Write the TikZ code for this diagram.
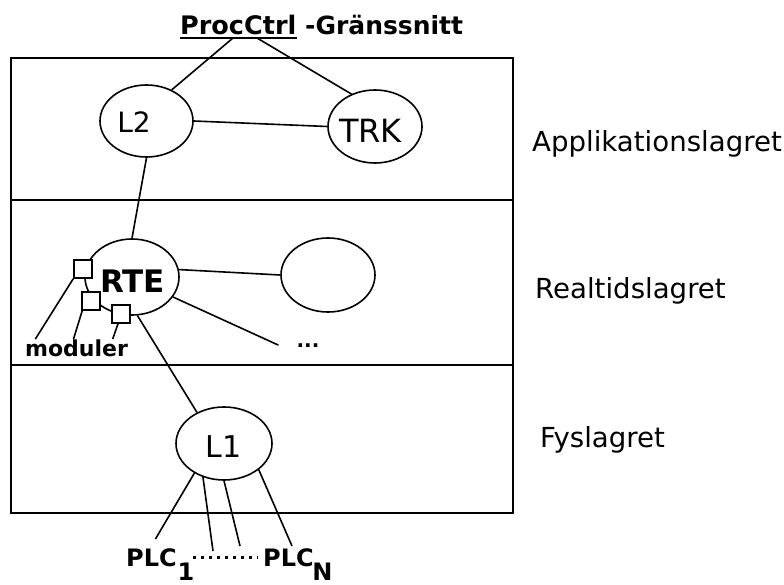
\documentclass[tikz,border=0pt]{standalone}
\usepackage{fontspec}
\setmainfont{DejaVu Sans}
\usetikzlibrary{shapes.geometric,calc}
\begin{document}
\begin{tikzpicture}[x=1pt,y=-1pt,
  ell/.style={draw,ellipse,line width=1.6pt,inner sep=0pt},
  con/.style={line width=1.6pt},
  sqbox/.style={draw,fill=white,line width=1.6pt,minimum size=18pt,inner sep=0pt},
  lbl/.style={inner sep=0pt},
  layer/.style={anchor=base west,inner sep=0pt,font=\fontsize{27.6}{30}\selectfont},
  plc/.style={inner sep=0pt,font=\bfseries\fontsize{24}{26}\selectfont},
  boxline/.style={line width=2.2pt}]
\useasboundingbox (0,0) rectangle (784,585);
\fill[white] (0,0) rectangle (784,585);
% layer box
\draw[boxline] (11,58) rectangle (513,513);
\draw[boxline] (11,200) -- (513,200);
\draw[boxline] (11,365) -- (513,365);
% title
\node[anchor=base west,lbl,font=\bfseries\fontsize{25.5}{27}\selectfont] (pc) at (180,35) {ProcCtrl};
\node[anchor=base west,lbl,font=\bfseries\fontsize{25}{27}\selectfont] (gr) at (305,35) {-Gränssnitt};
\draw[line width=1.8pt] ([yshift=-3pt]pc.base west) -- ([yshift=-3pt]pc.base east);
\coordinate (ta) at (233,38);
\coordinate (tb) at (257,38);
% ellipses
\node[ell,minimum width=93pt,minimum height=72pt] (L2) at (146.5,121) {};
\node[lbl,font=\fontsize{28}{30}\selectfont] (L2t) at (134,122.5) {L2};
\node[ell,minimum width=94pt,minimum height=73pt] (TRK) at (375,126.5) {};
\node[lbl,font=\fontsize{32}{34}\selectfont] (TRKt) at (370.5,131) {TRK};
\node[ell,minimum width=94pt,minimum height=76pt] (RTE) at (132,277) {};
\node[lbl,font=\bfseries\fontsize{31}{33}\selectfont] (RTEt) at (132.5,281.5) {RTE};
\node[ell,minimum width=94pt,minimum height=74pt] (E) at (328,275) {};
\node[ell,minimum width=96pt,minimum height=73pt] (L1) at (224,443.5) {};
\node[lbl,font=\fontsize{30}{32}\selectfont] (L1t) at (223.5,447) {L1};
% other labels
\node[anchor=base,inner xsep=18pt,inner ysep=0pt,font=\bfseries\fontsize{20}{22}\selectfont] (dots) at (308,347) {...};
\node[anchor=base west,lbl,font=\bfseries\fontsize{22}{24}\selectfont] (mod) at (25,356) {moduler};
\node[plc,anchor=base west] (plcA) at (126,566) {PLC};
\node[plc,anchor=base] (sub1) at (186,580.5) {1};
\node[plc,anchor=base west] (plcB) at (263,566) {PLC};
\node[plc,anchor=base] (subN) at (322.5,580.5) {N};
\node[layer] (app) at (532,152) {Applikationslagret};
\node[layer] (rt) at (535,298.5) {Realtidslagret};
\node[layer] (fys) at (540,447.5) {Fyslagret};
% connectors
\draw[con] (ta) -- (L2.51);
\draw[con] (tb) -- (TRK.126);
\draw[con] (L2.east) -- (TRK.west);
\draw[con] (L2.south) -- (RTE.north);
\draw[con] (RTE.9) -- (E.west);
\draw[con] (RTE.-26) -- (dots.west);
\draw[con] (RTE.-82) -- (L1.131);
\coordinate (p2) at (213,551);
\coordinate (p3) at (240,546);
\coordinate (p4) at (292,546);
\draw[con] (L1.-135) -- ([shift={(4pt,9pt)}]plcA.north);
\draw[con] (L1.-122) -- (p2);
\draw[con] (L1.-90) -- (p3);
\draw[con] (L1.-37) -- (p4);
\draw[line width=3pt,dash pattern=on 3pt off 5pt] ([xshift=16pt]plcA.east) -- ([xshift=-5pt]plcB.west);
% module squares
\node[sqbox] (sq1) at (83,269) {};
\node[sqbox] (sq2) at (91,301) {};
\node[sqbox] (sq3) at (121,314) {};
\draw[con] (sq1.south west) -- ($(mod.north west)!0.1!(mod.north east)$);
\draw[con] ([xshift=1pt]sq2.south west) -- ($(mod.north west)!0.47!(mod.north east)$);
\draw[con] ([xshift=-3pt]sq3.south) -- ($(mod.north west)!0.85!(mod.north east)$);
\end{tikzpicture}
\end{document}
